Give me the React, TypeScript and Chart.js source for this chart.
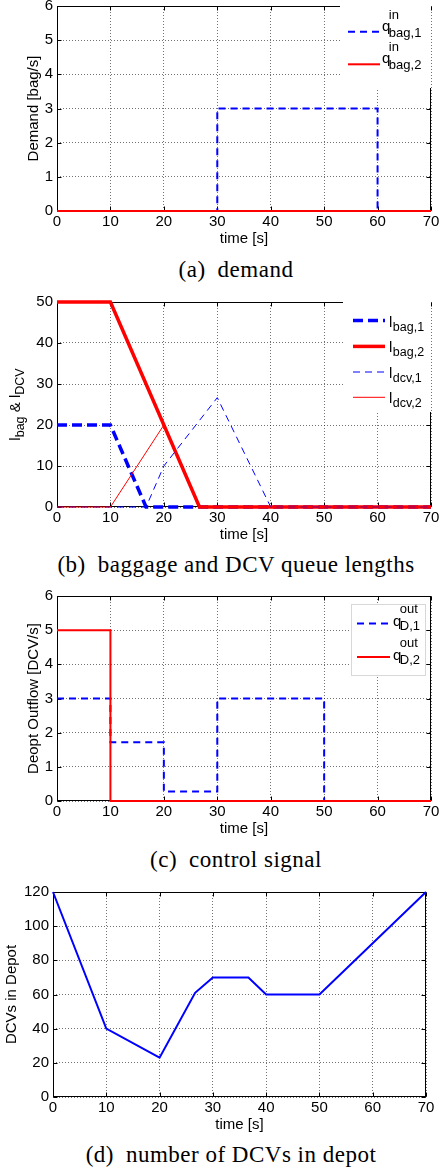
import React, { useEffect, useRef } from 'react';
import { Chart, registerables } from 'chart.js';

Chart.register(...registerables);

// ---------- data ----------
const timeTicksMin = 0;
const timeTicksMax = 70;
const timeTickStep = 10;
const xAxisTitle = 'time [s]';

// (a) demand
const demandTime1 = [0, 30, 30, 60, 60, 70];
const demandBag1 = [0, 0, 3, 3, 0, 0];
const demandTime2 = [0, 70];
const demandBag2 = [0, 0];

// (b) baggage and DCV queue lengths
const bag1Time = [0, 10, 16.67, 70];
const bag1Len = [20, 20, 0, 0];
const bag2Time = [0, 10, 26.67, 70];
const bag2Len = [50, 50, 0, 0];
const dcv1Time = [0, 16.67, 20, 30, 40, 70];
const dcv1Len = [0, 0, 10, 26.67, 0, 0];
const dcv2Time = [0, 10, 20, 26.67, 70];
const dcv2Len = [0, 0, 20, 0, 0];

// (c) control signal
const out1Time = [0, 10, 10, 20, 20, 30, 30, 50, 50, 70];
const out1Flow = [3, 3, 1.72, 1.72, 0.28, 0.28, 3, 3, 0, 0];
const out2Time = [0, 10, 10, 70];
const out2Flow = [5, 5, 0, 0];

// (d) number of DCVs in depot
const depotTime = [0, 10, 20, 26.67, 30, 36.67, 40, 50, 70];
const depotCount = [120, 40, 23, 61, 70, 70, 60, 60, 120];

const captions = [
  '(a)\u2002demand',
  '(b)\u2002baggage and DCV queue lengths',
  '(c)\u2002control signal',
  '(d)\u2002number of DCVs in depot',
];

// ---------- styling ----------
const BLUE = '#0000ff';
const RED = '#ff0000';
const SANS = '"Liberation Sans", Arial, Helvetica, sans-serif';
const SERIF = '"Liberation Serif", "Times New Roman", serif';

type Seg = { t: string; sub?: boolean };
type Rich = { main: string; sup?: string; sub?: string };

interface Series {
  xs: number[];
  ys: number[];
  color: string;
  width: number;
  dash: number[];
  order: number;
  legend: Rich;
}

interface LegendCfg {
  box: [number, number, number, number];
  border?: string;
  lineX0: number;
  lineX1: number;
  textX: number;
  rows: number[];
  mainSize: number;
  scriptSize: number;
  mainDy: number;
  supDy: number;
  subDy: number;
  scriptDx: number;
}

interface Panel {
  top: number;
  yWidth: number;
  padRight: number;
  yMin: number;
  yMax: number;
  yStep: number;
  yTitle: Seg[];
  yTitleOffset: number; // distance of title centre left of the plot edge
  series: Series[];
  legend?: LegendCfg;
  caption: string;
  captionX: number;
  captionTop: number;
}

const pts = (xs: number[], ys: number[]) => xs.map((x, i) => ({ x, y: ys[i] }));

const DASH = [7, 5];
const DASH_THICK = [10, 5];

const panels: Panel[] = [
  {
    top: 0,
    yWidth: 57,
    padRight: 9,
    yMin: 0,
    yMax: 6,
    yStep: 1,
    yTitle: [{ t: 'Demand [bag/s]' }],
    yTitleOffset: 24,
    series: [
      { xs: demandTime1, ys: demandBag1, color: BLUE, width: 2, dash: DASH, order: 2, legend: { main: 'q', sup: 'in', sub: 'bag,1' } },
      { xs: demandTime2, ys: demandBag2, color: RED, width: 2, dash: [], order: 1, legend: { main: 'q', sup: 'in', sub: 'bag,2' } },
    ],
    legend: {
      box: [-91, 0, 0, 82],
      lineX0: -83,
      lineX1: -51,
      textX: -49,
      rows: [25.7, 58.3],
      mainSize: 15,
      scriptSize: 13,
      mainDy: -1,
      supDy: -13,
      subDy: 5,
      scriptDx: -1.5,
    },
    caption: captions[0],
    captionX: 236,
    captionTop: 256,
  },
  {
    top: 296,
    yWidth: 57,
    padRight: 9,
    yMin: 0,
    yMax: 50,
    yStep: 10,
    yTitle: [{ t: 'l' }, { t: 'bag', sub: true }, { t: ' & l' }, { t: 'DCV', sub: true }],
    yTitleOffset: 42,
    series: [
      { xs: bag1Time, ys: bag1Len, color: BLUE, width: 3.5, dash: DASH_THICK, order: 4, legend: { main: 'l', sub: 'bag,1' } },
      { xs: bag2Time, ys: bag2Len, color: RED, width: 3.5, dash: [], order: 3, legend: { main: 'l', sub: 'bag,2' } },
      { xs: dcv1Time, ys: dcv1Len, color: BLUE, width: 1, dash: DASH, order: 2, legend: { main: 'l', sub: 'dcv,1' } },
      { xs: dcv2Time, ys: dcv2Len, color: RED, width: 1, dash: [], order: 1, legend: { main: 'l', sub: 'dcv,2' } },
    ],
    legend: {
      box: [-88, 0, 0, 110],
      lineX0: -78,
      lineX1: -46,
      textX: -42,
      rows: [18.6, 44.4, 70, 95.3],
      mainSize: 15,
      scriptSize: 12.5,
      mainDy: 6,
      supDy: 0,
      subDy: 10,
      scriptDx: 0.5,
    },
    caption: captions[1],
    captionX: 236,
    captionTop: 551,
  },
  {
    top: 590,
    yWidth: 57,
    padRight: 9,
    yMin: 0,
    yMax: 6,
    yStep: 1,
    yTitle: [{ t: 'Deopt Outflow [DCV/s]' }],
    yTitleOffset: 24,
    series: [
      { xs: out1Time, ys: out1Flow, color: BLUE, width: 2, dash: DASH, order: 2, legend: { main: 'q', sup: 'out', sub: 'D,1' } },
      { xs: out2Time, ys: out2Flow, color: RED, width: 2, dash: [], order: 1, legend: { main: 'q', sup: 'out', sub: 'D,2' } },
    ],
    legend: {
      box: [-80, 8, -5, 80],
      border: '#d8d8d8',
      lineX0: -74,
      lineX1: -41,
      textX: -38,
      rows: [27.6, 61],
      mainSize: 15,
      scriptSize: 13,
      mainDy: 2.5,
      supDy: -10.5,
      subDy: 6.5,
      scriptDx: -1.5,
    },
    caption: captions[2],
    captionX: 236,
    captionTop: 846,
  },
  {
    top: 886,
    yWidth: 53,
    padRight: 14,
    yMin: 0,
    yMax: 120,
    yStep: 20,
    yTitle: [{ t: 'DCVs in Depot' }],
    yTitleOffset: 42,
    series: [
      { xs: depotTime, ys: depotCount, color: BLUE, width: 2, dash: [], order: 1, legend: { main: '' } },
    ],
    caption: captions[3],
    captionX: 231,
    captionTop: 1141,
  },
];

const CANVAS_H = 250;

function drawFrame(chart: any) {
  const { ctx, chartArea: a, scales } = chart;
  ctx.save();
  ctx.strokeStyle = '#000';
  ctx.lineWidth = 1;
  ctx.setLineDash([]);
  const L = Math.round(a.left) + 0.5;
  const R = Math.round(a.right) - 0.5;
  const T = Math.round(a.top) + 0.5;
  const B = Math.round(a.bottom) - 0.5;
  ctx.strokeRect(L, T, R - L, B - T);
  const tl = 4;
  ctx.beginPath();
  scales.x.ticks.forEach((t: any) => {
    const px = Math.round(scales.x.getPixelForValue(t.value)) + 0.5;
    ctx.moveTo(px, B);
    ctx.lineTo(px, B - tl);
    ctx.moveTo(px, T);
    ctx.lineTo(px, T + tl);
  });
  scales.y.ticks.forEach((t: any) => {
    const py = Math.round(scales.y.getPixelForValue(t.value)) + 0.5;
    ctx.moveTo(L, py);
    ctx.lineTo(L + tl, py);
    ctx.moveTo(R, py);
    ctx.lineTo(R - tl, py);
  });
  ctx.stroke();
  ctx.restore();
}

function drawYTitle(chart: any, segs: Seg[], offset: number) {
  const { ctx, chartArea: a } = chart;
  const cx = a.left - offset;
  const cy = (a.top + a.bottom) / 2;
  ctx.save();
  ctx.setTransform(1, 0, 0, 1, 0, 0);
  ctx.translate(cx, cy);
  ctx.rotate(-Math.PI / 2);
  ctx.fillStyle = '#000';
  ctx.textAlign = 'left';
  ctx.textBaseline = 'alphabetic';
  const mainFont = `15px ${SANS}`;
  const subFont = `12.5px ${SANS}`;
  let total = 0;
  const widths = segs.map((s) => {
    ctx.font = s.sub ? subFont : mainFont;
    const w = ctx.measureText(s.t).width;
    total += w;
    return w;
  });
  let x = -total / 2;
  segs.forEach((s, i) => {
    ctx.font = s.sub ? subFont : mainFont;
    ctx.fillText(s.t, x, s.sub ? 9 : 5);
    x += widths[i];
  });
  ctx.restore();
}

function drawLegend(chart: any, lg: LegendCfg, series: Series[]) {
  const { ctx, chartArea: a } = chart;
  ctx.save();
  const bx0 = a.right + lg.box[0];
  const by0 = a.top + lg.box[1];
  const bx1 = a.right + lg.box[2];
  const by1 = a.top + lg.box[3];
  ctx.fillStyle = '#fff';
  ctx.fillRect(bx0, by0, bx1 - bx0, by1 - by0);
  if (lg.border) {
    ctx.strokeStyle = lg.border;
    ctx.lineWidth = 1;
    ctx.strokeRect(Math.round(bx0) + 0.5, Math.round(by0) + 0.5, Math.round(bx1 - bx0) - 1, Math.round(by1 - by0) - 1);
  }
  series.forEach((s, i) => {
    const y = a.top + lg.rows[i];
    ctx.beginPath();
    ctx.setLineDash(s.dash);
    ctx.lineWidth = s.width;
    ctx.strokeStyle = s.color;
    ctx.moveTo(a.right + lg.lineX0, y);
    ctx.lineTo(a.right + lg.lineX1, y);
    ctx.stroke();
    ctx.setLineDash([]);
    const tx = a.right + lg.textX;
    ctx.fillStyle = '#000';
    ctx.textAlign = 'left';
    ctx.textBaseline = 'alphabetic';
    ctx.font = `${lg.mainSize}px ${SANS}`;
    ctx.fillText(s.legend.main, tx, y + lg.mainDy);
    const w = ctx.measureText(s.legend.main).width;
    ctx.font = `${lg.scriptSize}px ${SANS}`;
    if (s.legend.sup) ctx.fillText(s.legend.sup, tx + w + lg.scriptDx, y + lg.supDy);
    if (s.legend.sub) ctx.fillText(s.legend.sub, tx + w + lg.scriptDx, y + lg.subDy);
  });
  ctx.restore();
}

function PanelChart({ p }: { p: Panel }) {
  const ref = useRef<HTMLCanvasElement | null>(null);
  useEffect(() => {
    if (!ref.current) return;
    const tickFont = { family: SANS, size: 15 };
    const gridColor = 'rgba(0,0,0,0.55)';
    const deco = {
      id: 'deco',
      beforeDatasetsDraw(chart: any) {
        drawFrame(chart);
      },
      afterDatasetsDraw(chart: any) {
        if (p.legend) drawLegend(chart, p.legend, p.series);
      },
      afterDraw(chart: any) {
        drawYTitle(chart, p.yTitle, p.yTitleOffset);
      },
    };
    const chart = new Chart(ref.current, {
      type: 'line',
      data: {
        datasets: p.series.map((s) => ({
          data: pts(s.xs, s.ys),
          borderColor: s.color,
          backgroundColor: s.color,
          borderWidth: s.width,
          borderDash: s.dash,
          pointRadius: 0,
          fill: false,
          tension: 0,
          order: s.order,
          clip: false as any,
        })),
      },
      options: {
        animation: false,
        responsive: false,
        events: [],
        layout: { padding: { top: 6, right: p.padRight, left: 0, bottom: 0 } },
        plugins: { legend: { display: false }, tooltip: { enabled: false } },
        scales: {
          x: {
            type: 'linear',
            min: timeTicksMin,
            max: timeTicksMax,
            ticks: { stepSize: timeTickStep, color: '#000', font: tickFont, padding: 2, maxRotation: 0, autoSkip: false },
            grid: { color: gridColor, lineWidth: 1, drawTicks: false },
            border: { display: false, dash: [1, 2] },
            title: { display: true, text: xAxisTitle, color: '#000', font: tickFont, padding: { top: 0, bottom: 2 } },
            afterFit: (s: any) => {
              s.height = 39;
              s.paddingLeft = 0;
              s.paddingRight = 0;
            },
          },
          y: {
            type: 'linear',
            min: p.yMin,
            max: p.yMax,
            ticks: { stepSize: p.yStep, color: '#000', font: tickFont, padding: 4 },
            grid: { color: gridColor, lineWidth: 1, drawTicks: false },
            border: { display: false, dash: [1, 2] },
            afterFit: (s: any) => {
              s.width = p.yWidth;
              s.paddingTop = 0;
              s.paddingBottom = 0;
            },
          },
        },
      } as any,
      plugins: [deco],
    });
    return () => chart.destroy();
  }, [p]);
  return (
    <>
      <canvas
        ref={ref}
        width={440}
        height={CANVAS_H}
        style={{ position: 'absolute', left: 0, top: p.top, width: 440, height: CANVAS_H, display: 'block' }}
      />
      <div
        style={{
          position: 'absolute',
          left: p.captionX - 220,
          width: 440,
          top: p.captionTop,
          textAlign: 'center',
          fontFamily: SERIF,
          fontSize: 23,
          lineHeight: '28px',
          letterSpacing: '0.5px',
          whiteSpace: 'nowrap',
          color: '#000',
        }}
      >
        {p.caption}
      </div>
    </>
  );
}

export default function App() {
  return (
    <div style={{ position: 'absolute', left: 0, top: 0, width: 440, height: 1168, background: '#fff', overflow: 'hidden' }}>
      {panels.map((p, i) => (
        <PanelChart key={i} p={p} />
      ))}
    </div>
  );
}
